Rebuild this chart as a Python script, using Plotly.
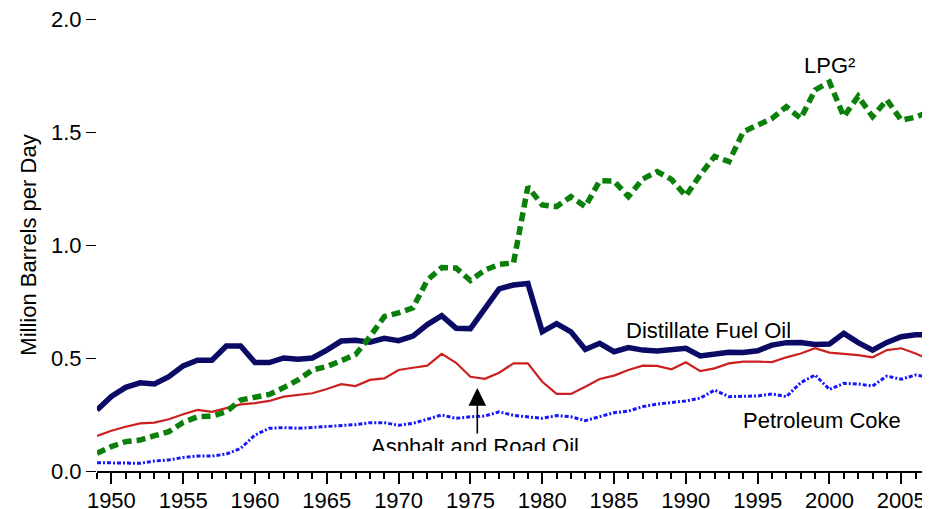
import plotly.graph_objects as go

years = list(range(1949, 2008))

distillate = [0.27, 0.33, 0.37, 0.39, 0.385, 0.417, 0.465, 0.49, 0.49, 0.553, 0.553,
              0.48, 0.48, 0.50, 0.495, 0.50, 0.535, 0.575, 0.578, 0.57, 0.587,
              0.577, 0.597, 0.648, 0.687, 0.632, 0.63, 0.72, 0.806, 0.823, 0.83,
              0.616, 0.652, 0.616, 0.538, 0.565, 0.528, 0.546, 0.535, 0.531, 0.538,
              0.543, 0.509, 0.52, 0.525, 0.524, 0.532, 0.557, 0.568, 0.569, 0.56,
              0.562, 0.609, 0.568, 0.535, 0.569, 0.594, 0.603, 0.603]

asphalt = [0.155, 0.178, 0.196, 0.211, 0.214, 0.229, 0.251, 0.27, 0.262, 0.28, 0.295,
           0.30, 0.31, 0.329, 0.336, 0.344, 0.363, 0.384, 0.376, 0.403, 0.41,
           0.447, 0.457, 0.466, 0.518, 0.479, 0.417, 0.408, 0.435, 0.476, 0.476,
           0.395, 0.341, 0.341, 0.373, 0.407, 0.422, 0.447, 0.466, 0.465, 0.45,
           0.481, 0.442, 0.454, 0.476, 0.484, 0.484, 0.482, 0.503, 0.52, 0.543,
           0.524, 0.518, 0.513, 0.503, 0.535, 0.543, 0.52, 0.491]

coke = [0.037, 0.037, 0.037, 0.034, 0.044, 0.049, 0.06, 0.066, 0.066, 0.075, 0.10,
        0.159, 0.189, 0.192, 0.189, 0.193, 0.199, 0.20, 0.205, 0.214, 0.214,
        0.202, 0.211, 0.229, 0.248, 0.233, 0.24, 0.243, 0.262, 0.246, 0.24,
        0.233, 0.245, 0.24, 0.223, 0.24, 0.258, 0.265, 0.285, 0.296, 0.302,
        0.31, 0.322, 0.358, 0.329, 0.329, 0.332, 0.341, 0.329, 0.391, 0.425,
        0.361, 0.388, 0.385, 0.376, 0.42, 0.406, 0.425, 0.415]

lpg = [0.078, 0.108, 0.13, 0.137, 0.156, 0.174, 0.215, 0.24, 0.243, 0.262, 0.314,
       0.329, 0.339, 0.369, 0.403, 0.447, 0.462, 0.488, 0.515, 0.594, 0.683,
       0.70, 0.722, 0.845, 0.90, 0.898, 0.843, 0.889, 0.914, 0.921, 1.258,
       1.177, 1.17, 1.214, 1.17, 1.284, 1.283, 1.214, 1.292, 1.325, 1.29,
       1.217, 1.31, 1.392, 1.369, 1.501, 1.528, 1.56, 1.612, 1.56, 1.686,
       1.721, 1.568, 1.658, 1.568, 1.642, 1.552, 1.566, 1.59]

y_ticks = [0.0, 0.5, 1.0, 1.5, 2.0]
x_ticks = [1950, 1955, 1960, 1965, 1970, 1975, 1980, 1985, 1990, 1995, 2000, 2005]

FONT = "Liberation Sans, Arial, sans-serif"

fig = go.Figure()
fig.add_trace(go.Scatter(x=years, y=distillate, mode="lines", name="Distillate Fuel Oil",
                         line=dict(color="#0b0b66", width=5.5), cliponaxis=False))
fig.add_trace(go.Scatter(x=years, y=asphalt, mode="lines", name="Asphalt and Road Oil",
                         line=dict(color="#cc2020", width=2.2), cliponaxis=False))
fig.add_trace(go.Scatter(x=years, y=coke, mode="lines", name="Petroleum Coke",
                         line=dict(color="#1515ff", width=3, dash="4px,2px,2px,2px"),
                         cliponaxis=False))
fig.add_trace(go.Scatter(x=years, y=lpg, mode="lines", name="LPG",
                         line=dict(color="#0a800a", width=5.5, dash="9px,5px"),
                         cliponaxis=False))

annotations = [
    dict(x=2000.0, y=1.796, text="LPG²", showarrow=False, xanchor="center", yanchor="middle"),
    dict(x=1991.6, y=0.62, text="Distillate Fuel Oil", showarrow=False,
         xanchor="center", yanchor="middle"),
    dict(x=1999.45, y=0.222, text="Petroleum Coke", showarrow=False,
         xanchor="center", yanchor="middle"),
    dict(x=1975.3, y=0.168, text="Asphalt and Road Oil", showarrow=False,
         xanchor="center", yanchor="top", height=17, valign="top", borderpad=0),
    dict(x=1975.48, y=0.367, ax=1975.48, ay=0.159, axref="x", ayref="y", text="",
         showarrow=True, arrowhead=2, arrowsize=2.2, arrowwidth=1.6, arrowcolor="black"),
]
for a in annotations:
    a.setdefault("font", dict(family=FONT, size=22, color="black"))

# the page body adds an 8px offset, so the figure is 8px smaller on each side
fig.update_layout(
    width=922, height=501,
    margin=dict(l=89, r=0, t=11, b=38, autoexpand=False),
    paper_bgcolor="white", plot_bgcolor="white",
    showlegend=False,
    font=dict(family=FONT, size=22, color="black"),
    annotations=annotations,
    xaxis=dict(range=[1949, 2007], tickvals=x_ticks, ticktext=[str(v) for v in x_ticks],
               automargin=False, ticklabelstandoff=-2, ticklabeloverflow="allow",
               showgrid=False, zeroline=False, showline=True, linecolor="black",
               linewidth=2, ticks="outside", ticklen=11, tickwidth=2, tickcolor="black",
               minor=dict(dtick=1, tick0=1949, ticks="outside", ticklen=6, tickwidth=2,
                          tickcolor="black", showgrid=False),
               tickfont=dict(family=FONT, size=22, color="black")),
    yaxis=dict(range=[0, 2], tickvals=y_ticks, ticktext=[f"{v:.1f}" for v in y_ticks],
               automargin=False, ticklabeloverflow="allow",
               showgrid=False, zeroline=False, showline=False, ticks="outside",
               ticklen=10, tickwidth=1, tickcolor="black",
               title=dict(text="Million Barrels per Day", standoff=8,
                          font=dict(family=FONT, size=22, color="black")),
               tickfont=dict(family=FONT, size=22, color="black")),
)

fig.write_html("out.html")
